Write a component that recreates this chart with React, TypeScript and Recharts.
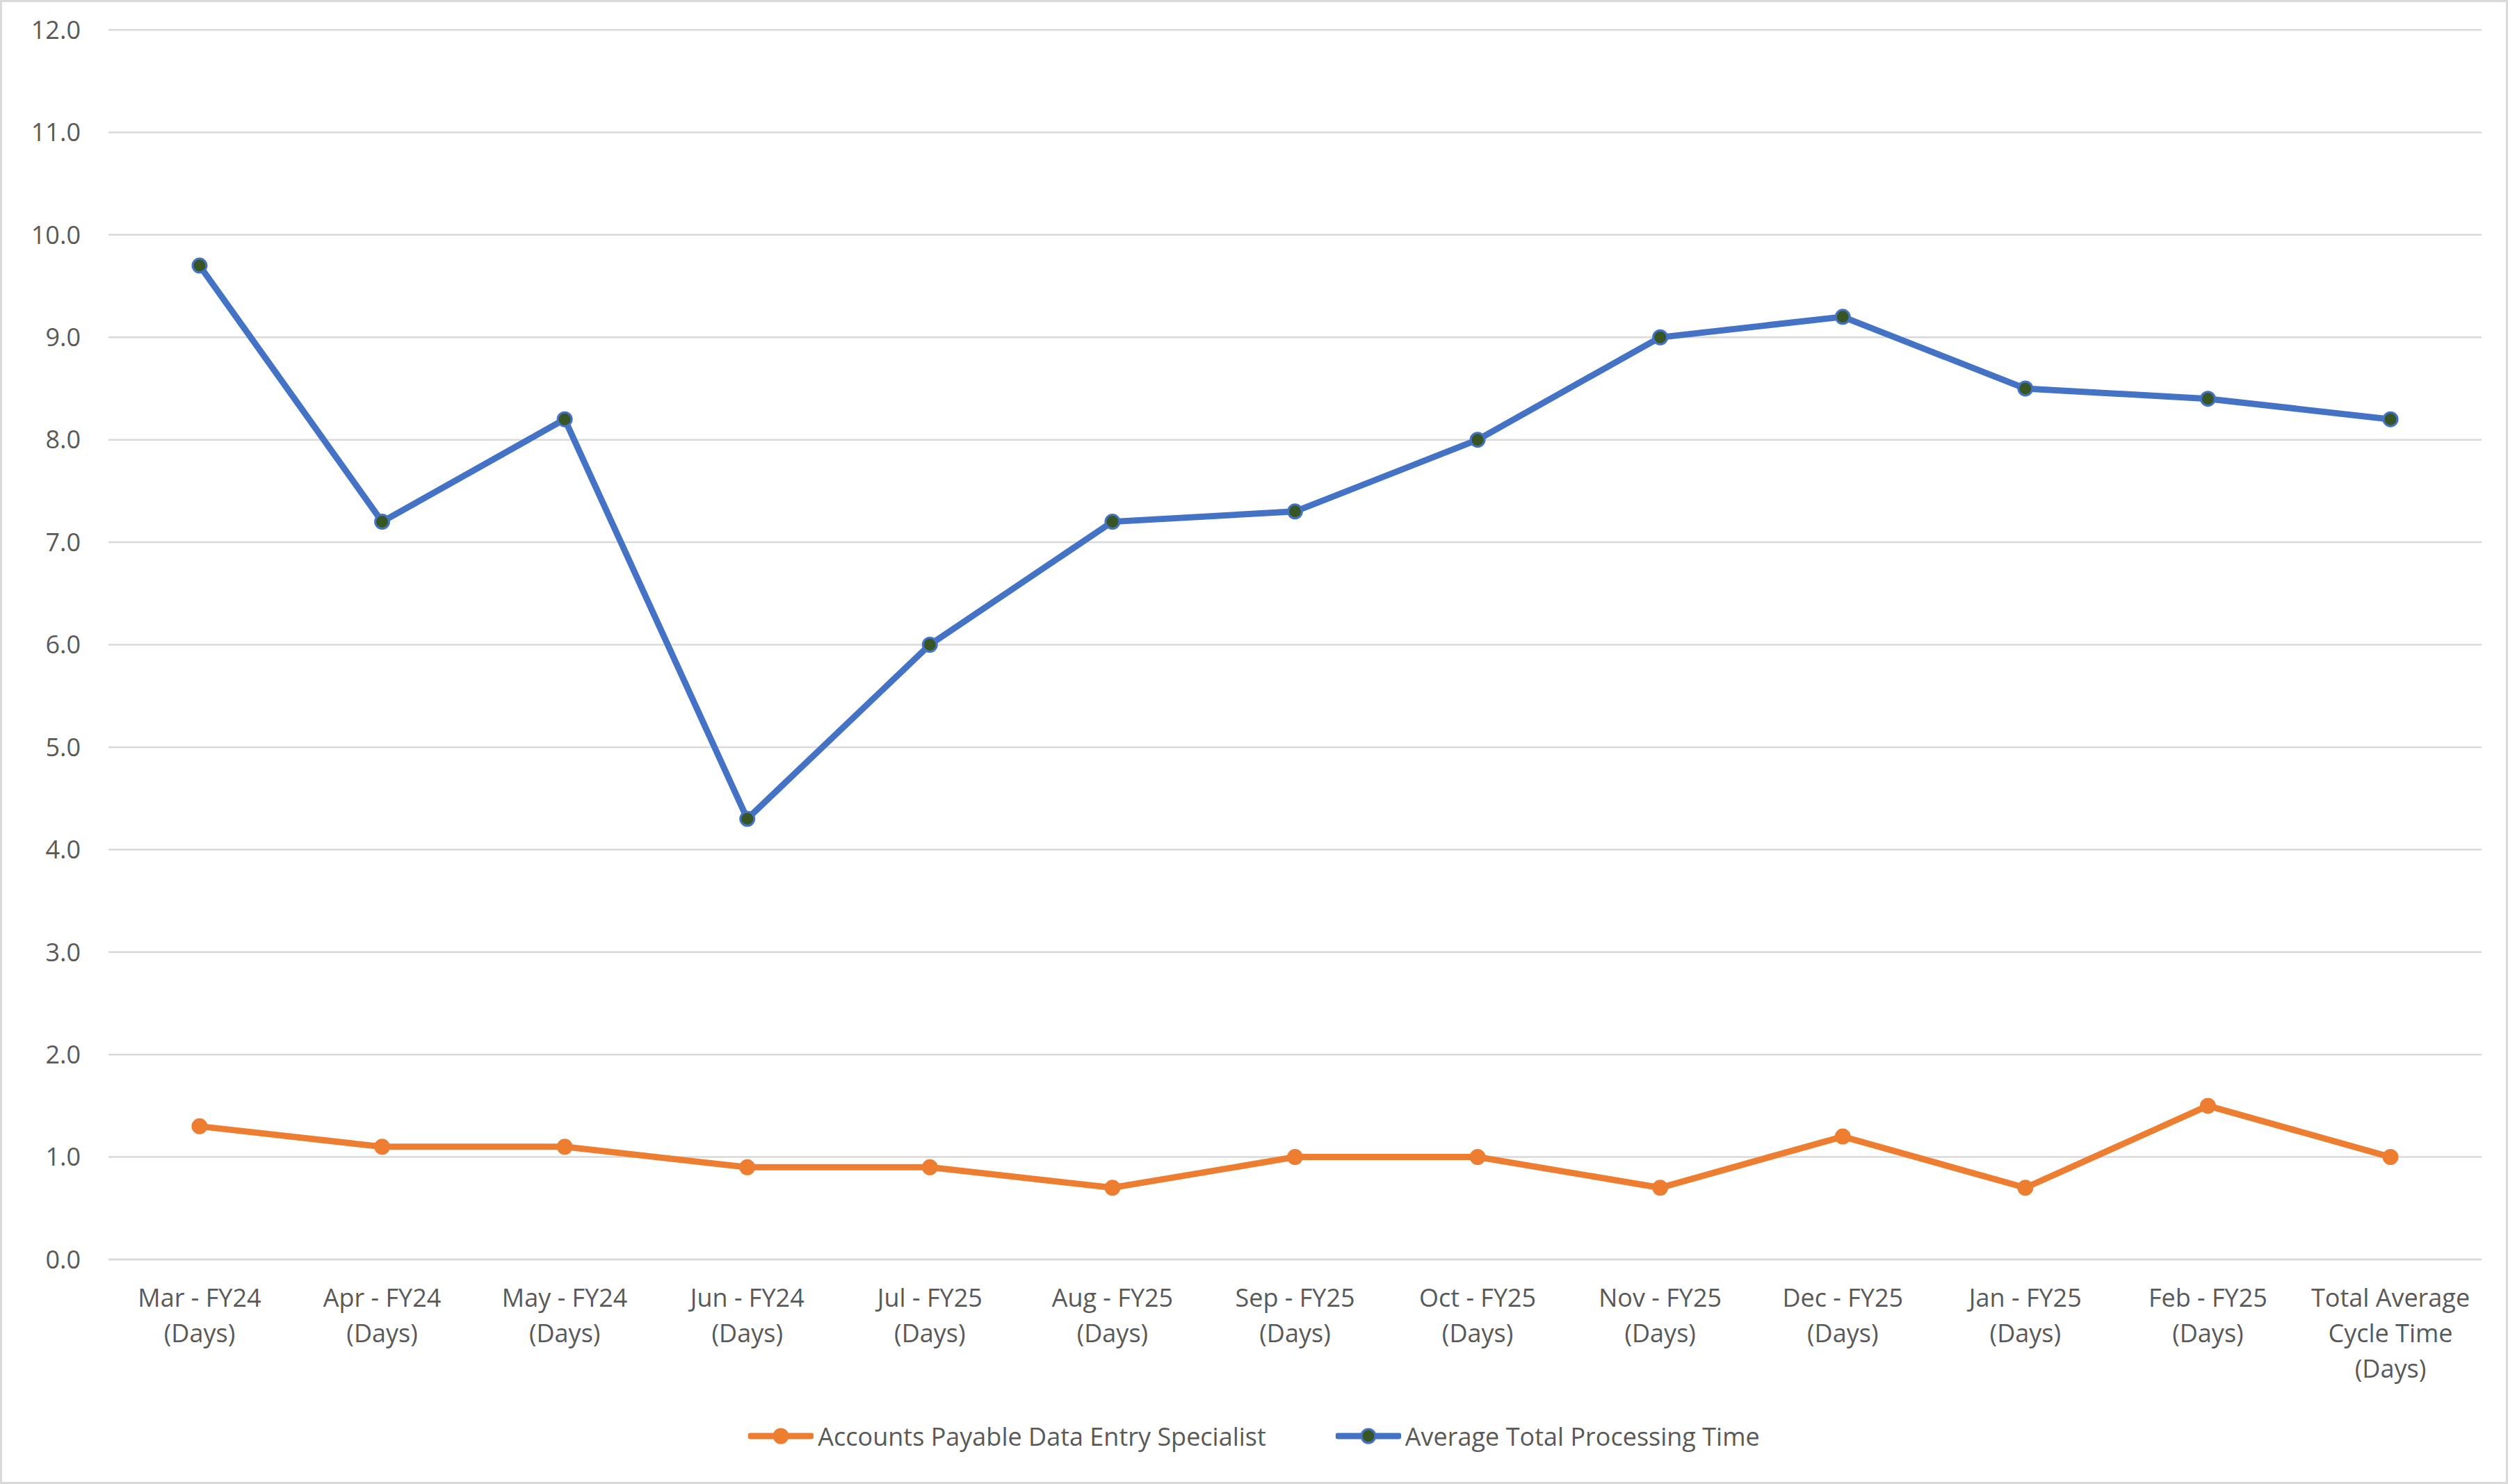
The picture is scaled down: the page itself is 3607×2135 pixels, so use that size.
import { LineChart, Line, XAxis, YAxis, CartesianGrid } from "recharts";

const categories = [
  "Mar - FY24\n(Days)",
  "Apr - FY24\n(Days)",
  "May - FY24\n(Days)",
  "Jun - FY24\n(Days)",
  "Jul - FY25\n(Days)",
  "Aug - FY25\n(Days)",
  "Sep - FY25\n(Days)",
  "Oct - FY25\n(Days)",
  "Nov - FY25\n(Days)",
  "Dec - FY25\n(Days)",
  "Jan - FY25\n(Days)",
  "Feb - FY25\n(Days)",
  "Total Average\nCycle Time\n(Days)",
];

const apSpecialist = [1.3, 1.1, 1.1, 0.9, 0.9, 0.7, 1.0, 1.0, 0.7, 1.2, 0.7, 1.5, 1.0];
const avgProcessing = [9.7, 7.2, 8.2, 4.3, 6.0, 7.2, 7.3, 8.0, 9.0, 9.2, 8.5, 8.4, 8.2];

const yTicks = [0, 1, 2, 3, 4, 5, 6, 7, 8, 9, 10, 11, 12];

const SERIES = [
  { key: "ap", name: "Accounts Payable Data Entry Specialist", color: "#ED7D31", dotFill: "#ED7D31" },
  { key: "avg", name: "Average Total Processing Time", color: "#4472C4", dotFill: "#375623" },
];

const FONT = "'Open Sans', sans-serif";
const TEXT = "#595959";
const GRID = "#D9D9D9";

const data = categories.map((category, i) => ({
  category,
  ap: apSpecialist[i],
  avg: avgProcessing[i],
}));

function CategoryTick({ x, y, payload }: any) {
  const lines = String(payload.value).split("\n");
  return (
    <text
      x={x}
      y={y}
      textAnchor="middle"
      fill={TEXT}
      fontSize={36}
      fontFamily={FONT}
    >
      {lines.map((line, i) => (
        <tspan key={i} x={x} dy={i === 0 ? 66 : 51}>
          {line}
        </tspan>
      ))}
    </text>
  );
}

function LegendRow() {
  return (
    <div
      style={{
        position: "absolute",
        left: 0,
        top: 2040,
        width: 3607,
        height: 52,
        display: "flex",
        justifyContent: "center",
        alignItems: "center",
        gap: 100,
        fontFamily: FONT,
        fontSize: 36,
        color: TEXT,
      }}
    >
      {SERIES.map((s) => (
        <div key={s.key} style={{ display: "flex", alignItems: "center", gap: 6 }}>
          <svg width={94} height={30}>
            <line x1={3} y1={15} x2={91} y2={15} stroke={s.color} strokeWidth={9} strokeLinecap="round" />
            <circle cx={47} cy={15} r={10} fill={s.dotFill} stroke={s.color} strokeWidth={3} />
          </svg>
          <span>{s.name}</span>
        </div>
      ))}
    </div>
  );
}

export default function App() {
  return (
    <div
      style={{
        position: "absolute",
        left: 0,
        top: 0,
        width: 3607,
        height: 2135,
        background: "#FFFFFF",
      }}
    >
      <LineChart
        width={3607}
        height={2135}
        data={data}
        margin={{ top: 43, right: 38, left: 0, bottom: 0 }}
      >
        <CartesianGrid vertical={false} stroke={GRID} strokeWidth={2.5} />
        <XAxis
          dataKey="category"
          height={323}
          interval={0}
          padding={{ left: 131, right: 131 }}
          axisLine={{ stroke: GRID, strokeWidth: 2.5 }}
          tickLine={false}
          tickSize={0}
          tick={<CategoryTick />}
        />
        <YAxis
          width={156}
          domain={[0, 12]}
          ticks={yTicks}
          axisLine={false}
          tickLine={false}
          tickSize={0}
          tickMargin={40}
          tickFormatter={(v: number) => v.toFixed(1)}
          tick={{ fill: TEXT, fontSize: 36, fontFamily: FONT }}
        />
        {SERIES.map((s) => (
          <Line
            key={s.key}
            type="linear"
            dataKey={s.key}
            name={s.name}
            stroke={s.color}
            strokeWidth={9}
            dot={{ r: 10, fill: s.dotFill, stroke: s.color, strokeWidth: 3 }}
            activeDot={false}
            isAnimationActive={false}
          />
        ))}
      </LineChart>
      <LegendRow />
      <div
        style={{
          position: "absolute",
          left: 0,
          top: 0,
          width: 3607,
          height: 2135,
          boxSizing: "border-box",
          border: `3px solid ${GRID}`,
          pointerEvents: "none",
        }}
      />
    </div>
  );
}
